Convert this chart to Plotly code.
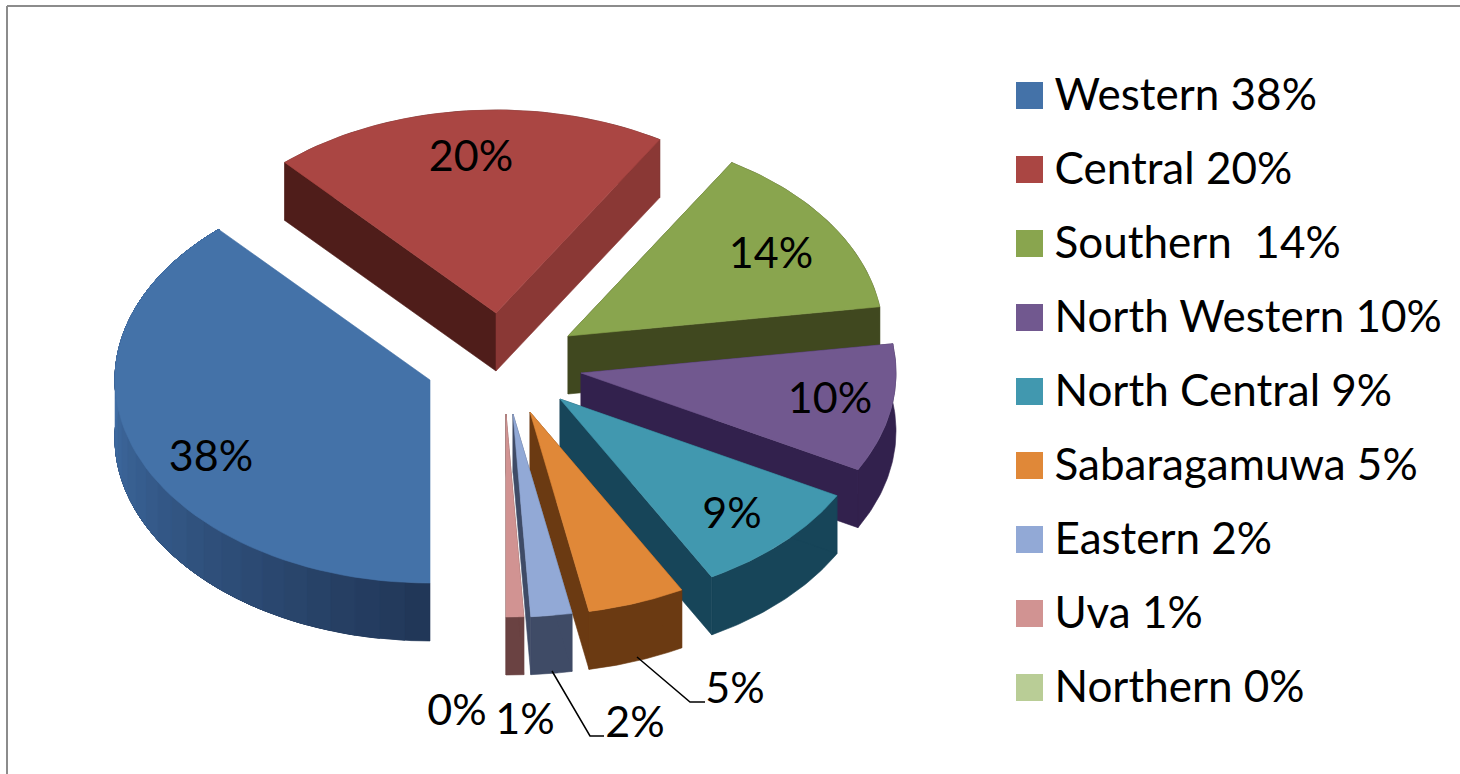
import math
import plotly.graph_objects as go

# ---- data ----
regions = ["Western", "Central", "Southern", "North Western", "North Central",
           "Sabaragamuwa", "Eastern", "Uva", "Northern"]
shares = [38.3, 20.4, 14.0, 10.2, 9.1, 5.0, 2.1, 0.9, 0.0]
share_labels = ["38%", "20%", "14%", "10%", "9%", "5%", "2%", "1%", "0%"]
legend_labels = ["Western 38%", "Central 20%", "Southern  14%", "North Western 10%",
                 "North Central 9%", "Sabaragamuwa 5%", "Eastern 2%", "Uva 1%", "Northern 0%"]

# ---- style ----
top_colors = ["#4472A8", "#AA4643", "#89A54E", "#71588F", "#4198AF",
              "#E08838", "#92A9D6", "#D19392", "#B9CD96"]
arc_light = ["#3F6CA3", "#5A2320", "#40481F", "#32214D", "#174559",
             "#6B3A12", "#3F4B66", "#6A4242", "#5E6B45"]
arc_dark = ["#213758", "#5A2320", "#40481F", "#32214D", "#174559",
            "#6B3A12", "#3F4B66", "#6A4242", "#5E6B45"]
start_cut = ["#3F6CA3", "#4F1D1A", "#40481F", "#32214D", "#174559",
             "#6B3A12", "#3F4B66", "#6A4242", "#5E6B45"]
end_cut = ["#213758", "#8A3835", "#40481F", "#32214D", "#174559",
           "#6B3A12", "#3F4B66", "#6A4242", "#5E6B45"]
FONT = "Lato"
LABEL_SIZE = 43
LEGEND_SIZE = 44

# ---- pie geometry (layout, in axis units) ----
RX, RY, DEPTH = 315, 203, 58
START = 180
explode_centres = [(430, 380), (496, 313), (568, 336), (581, 373), (560, 399),
                   (530, 412), (513, 414), (506, 414), (506, 414)]
label_positions = [(211, 457), (471, 157), (771, 254), (830, 399), (732, 514),
                   (735, 689), (635, 723), (525, 720), (457, 711)]
draw_order = [1, 2, 3, 4, 5, 6, 7, 0]
leaders = [[(637, 657), (690, 702), (705, 702)],
           [(552, 671), (590, 736), (604, 736)]]


def pt(c, a, dz=0.0):
    r = math.radians(a)
    return c[0] + RX * math.sin(r), c[1] - RY * math.cos(r) + dz


def poly(pts, color, name=None):
    xs = [p[0] for p in pts]
    ys = [p[1] for p in pts]
    return go.Scatter(x=xs + xs[:1], y=ys + ys[:1], mode="lines", fill="toself",
                      fillcolor=color, line=dict(color=color, width=0.6),
                      hoverinfo="text" if name else "skip", text=name,
                      showlegend=False)


def mix(c1, c2, t):
    a = [int(c1[i:i + 2], 16) for i in (1, 3, 5)]
    b = [int(c2[i:i + 2], 16) for i in (1, 3, 5)]
    return "#%02x%02x%02x" % tuple(round(a[k] + (b[k] - a[k]) * t) for k in range(3))


spans = []
acc = START
for s in shares:
    spans.append((acc, acc + s * 3.6))
    acc += s * 3.6

fig = go.Figure()
for i in draw_order:
    a0, a1 = spans[i]
    c = explode_centres[i]
    c_low = (c[0], c[1] + DEPTH)
    # outer rim: each band runs to the far end and is overpainted by the next one
    n = 30 if arc_light[i] != arc_dark[i] else 1
    for k in range(n):
        u = a0 + (a1 - a0) * k / n
        arc = [u + (a1 - u) * j / 40 for j in range(41)]
        pts = [pt(c, a) for a in arc] + [pt(c, a, DEPTH) for a in reversed(arc)]
        t = min(1.0, max(0.0, (270 - u) / 90))
        fig.add_trace(poly(pts, mix(arc_light[i], arc_dark[i], t)))
    # cut faces
    if i != 0:
        fig.add_trace(poly([c, pt(c, a0), pt(c, a0, DEPTH), c_low], start_cut[i]))
        fig.add_trace(poly([c, pt(c, a1), pt(c, a1, DEPTH), c_low], end_cut[i]))
    # top face
    arc = [pt(c, a0 + (a1 - a0) * k / 60) for k in range(61)]
    fig.add_trace(poly([c] + arc, top_colors[i], regions[i] + " " + share_labels[i]))

# leader lines
for ln in leaders:
    fig.add_trace(go.Scatter(x=[p[0] for p in ln], y=[p[1] for p in ln], mode="lines",
                             line=dict(color="#000000", width=1.5),
                             hoverinfo="skip", showlegend=False))

# data labels
fig.add_trace(go.Scatter(x=[p[0] for p in label_positions], y=[p[1] + 3 for p in label_positions],
                         mode="text", text=share_labels, textposition="middle center",
                         textfont=dict(family=FONT, size=LABEL_SIZE, color="#000000"),
                         hoverinfo="skip", showlegend=False))

# legend
LEG_Y0, LEG_STEP = 95.5, 74
leg_y = [LEG_Y0 + LEG_STEP * k for k in range(len(regions))]
fig.add_trace(go.Scatter(x=[1029.5] * len(regions), y=leg_y, mode="markers",
                         marker=dict(symbol="square", size=27, color=top_colors, line=dict(width=0)),
                         hoverinfo="skip", showlegend=False))
fig.add_trace(go.Scatter(x=[1054.5] * len(regions), y=[v + 3 for v in leg_y], mode="text",
                         text=legend_labels, textposition="middle right",
                         textfont=dict(family=FONT, size=LEGEND_SIZE, color="#000000"),
                         hoverinfo="skip", showlegend=False))

frame = dict(type="line", xref="x", yref="y", line=dict(color="#8C8C8C", width=2))
fig.update_layout(
    width=1460, height=774, margin=dict(l=0, r=0, t=0, b=0),
    paper_bgcolor="#FFFFFF", plot_bgcolor="#FFFFFF",
    xaxis=dict(range=[0, 1460], visible=False, fixedrange=True),
    yaxis=dict(range=[774, 0], visible=False, fixedrange=True),
    shapes=[dict(frame, x0=7, y0=6, x1=1460, y1=6), dict(frame, x0=7, y0=6, x1=7, y1=774)],
)
fig.write_html("out.html", config=dict(displayModeBar=False),
               post_script="document.body.style.margin='0';document.body.style.overflow='hidden';")
